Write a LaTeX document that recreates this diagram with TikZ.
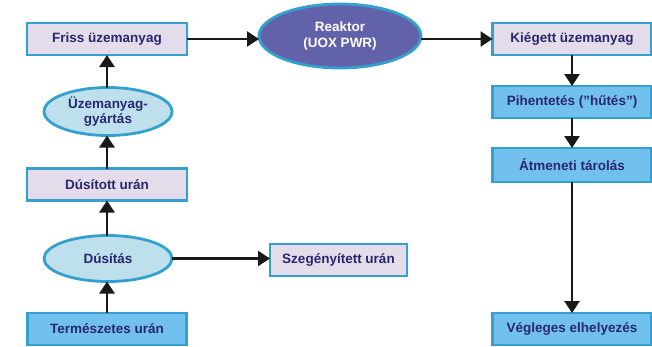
\documentclass[tikz,border=0pt]{standalone}
\usepackage{fontspec}
\setmainfont{Liberation Sans}
\usetikzlibrary{shapes.geometric,arrows.meta}

\definecolor{rim}{HTML}{34A0CD}
\definecolor{lavender}{HTML}{E4DCEA}
\definecolor{skyfill}{HTML}{72C0EE}
\definecolor{palefill}{HTML}{BEE0EC}
\definecolor{reactorfill}{HTML}{6262AA}
\definecolor{navy}{HTML}{28286E}

\tikzset{
  base/.style={draw=rim, line width=2.8pt, text=navy, font=\bfseries\fontsize{13.5}{15.5}\selectfont,
    inner sep=0pt, outer sep=0pt, align=center},
  litebox/.style={base, rectangle, fill=lavender, minimum width=160pt, minimum height=32pt},
  bluebox/.style={base, rectangle, fill=skyfill, minimum width=159pt, minimum height=32pt},
  process/.style={base, ellipse, fill=palefill, minimum width=128pt, minimum height=48pt},
  flow/.style={black!90, line width=2.6pt, -{Triangle[length=12pt,width=15pt]}}
}

\begin{document}
\begin{tikzpicture}[x=1pt,y=-1pt]
  \useasboundingbox[fill=white] (0,0) rectangle (652,346);

  % fuel fabrication column
  \node[litebox] (friss) at (107,39) {Friss üzemanyag};
  \node[process] (gyartas) at (108,111.5) {Üzemanyag-\\gyártás};
  \node[litebox] (dusitott) at (107,184.5) {Dúsított urán};
  \node[process, minimum height=46pt] (dusitas) at (108,258.5) {Dúsítás};
  \node[bluebox] (term) at (107,329) {Természetes urán};
  \node[litebox, minimum width=137pt] (szeg) at (338.5,260) {Szegényített urán};

  % reactor
  \node[base, ellipse, fill=reactorfill, text=white, minimum width=162pt, minimum height=64pt]
    (reaktor) at (340,36) {Reaktor\\(UOX PWR)};

  % back end column
  \node[litebox, minimum width=159pt] (kieg) at (572,39) {Kiégett üzemanyag};
  \node[bluebox] (pih) at (572,102) {Pihentetés (”hűtés”)};
  \node[bluebox, minimum height=34pt] (atm) at (572,165) {Átmeneti tárolás};
  \node[bluebox] (veg) at (572,329) {Végleges elhelyezés};

  % connectors
  \draw[flow] (term.north) -- (term.north |- dusitas.south);
  \draw[flow] (dusitas.north -| dusitott.south) -- (dusitott.south);
  \draw[flow] (dusitott.north) -- (dusitott.north |- gyartas.south);
  \draw[flow] (gyartas.north -| friss.south) -- (friss.south);
  \draw[flow] (friss.east) -- (reaktor.west |- friss.east);
  \draw[flow] (reaktor.east |- kieg.west) -- (kieg.west);
  \draw[flow] (kieg.south) -- (pih.north);
  \draw[flow] (pih.south) -- (atm.north);
  \draw[flow] (atm.south) -- (veg.north);
  \draw[flow] (dusitas.east) -- (szeg.west |- dusitas.east);
\end{tikzpicture}
\end{document}
